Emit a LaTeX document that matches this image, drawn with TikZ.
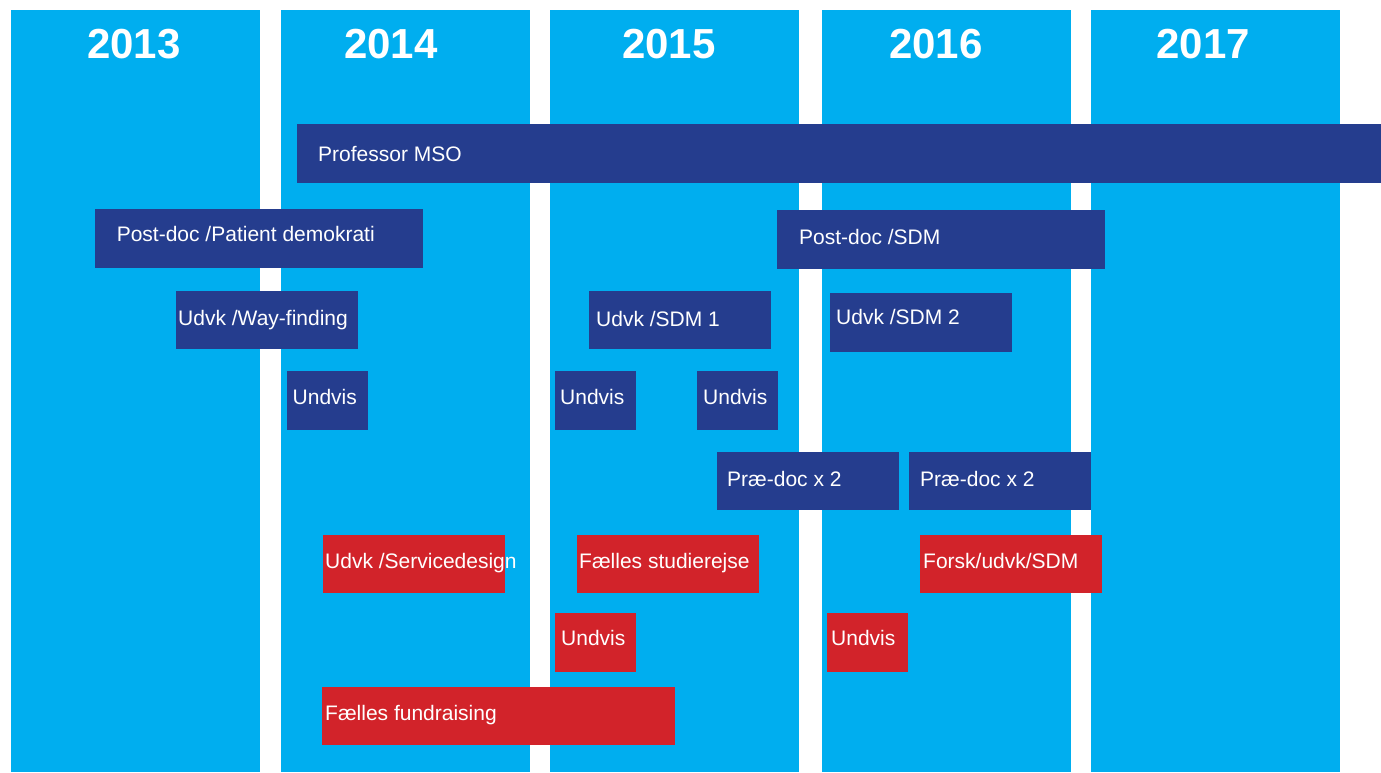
\documentclass[tikz,border=0pt]{standalone}
\usepackage{fontspec}
\setmainfont{Liberation Sans}
\definecolor{sky}{RGB}{0,174,239}
\definecolor{navy}{RGB}{37,61,142}
\definecolor{crimson}{RGB}{210,35,42}
\begin{document}
\begin{tikzpicture}[x=1pt,y=-1pt,
  box/.style={anchor=north west, inner sep=0pt, outer sep=0pt, draw=none},
  col/.style={box, fill=sky, minimum width=249pt, minimum height=762pt},
  nbox/.style={box, fill=navy},
  rbox/.style={box, fill=crimson},
  lbl/.style={anchor=base west, inner sep=0pt, text=white, font=\fontsize{21}{25}\selectfont},
  yr/.style={anchor=base, inner sep=0pt, text=white, font=\fontsize{42}{48}\selectfont\bfseries}]
\useasboundingbox (0,0) rectangle (1381,772);
\fill[white] (0,0) rectangle (1381,772);
% columns
\node[col] (c13) at (11,10) {};
\node[col] (c14) at (281,10) {};
\node[col] (c15) at (550,10) {};
\node[col] (c16) at (822,10) {};
\node[col] (c17) at (1091,10) {};
\node[yr] (y13) at (134,58.3) {2013};
\node[yr] (y14) at (391,58.3) {2014};
\node[yr] (y15) at (669,58.3) {2015};
\node[yr] (y16) at (936,58.3) {2016};
\node[yr] (y17) at (1203,58.3) {2017};
% navy boxes
\node[nbox, minimum width=1084pt, minimum height=59pt] (prof) at (297,124) {};
\node[nbox, minimum width=328pt, minimum height=59pt] (pdpat) at (95,209) {};
\node[nbox, minimum width=182pt, minimum height=58pt] (wayf) at (176,291) {};
\node[nbox, minimum width=81pt, minimum height=59pt] (und14) at (287,371) {};
\node[nbox, minimum width=182pt, minimum height=58pt] (sdm1) at (589,291) {};
\node[nbox, minimum width=81pt, minimum height=59pt] (und15a) at (555,371) {};
\node[nbox, minimum width=81pt, minimum height=59pt] (und15b) at (697,371) {};
\node[nbox, minimum width=328pt, minimum height=59pt] (pdsdm) at (777,210) {};
\node[nbox, minimum width=182pt, minimum height=59pt] (sdm2) at (830,293) {};
\node[nbox, minimum width=182pt, minimum height=58pt] (pre1) at (717,452) {};
\node[nbox, minimum width=182pt, minimum height=58pt] (pre2) at (909,452) {};
% red boxes
\node[rbox, minimum width=182pt, minimum height=58pt] (serv) at (323,535) {};
\node[rbox, minimum width=182pt, minimum height=58pt] (stud) at (577,535) {};
\node[rbox, minimum width=81pt, minimum height=59pt] (undr15) at (555,613) {};
\node[rbox, minimum width=353pt, minimum height=58pt] (fund) at (322,687) {};
\node[rbox, minimum width=182pt, minimum height=58pt] (forsk) at (920,535) {};
\node[rbox, minimum width=81pt, minimum height=59pt] (undr16) at (827,613) {};
% labels
\node[lbl] (tprof) at (318,161.7) {Professor MSO};
\node[lbl] (tpdpat) at (116.6,241) {Post-doc /Patient demokrati};
\node[lbl] (twayf) at (178,325) {Udvk /Way-finding};
\node[lbl] (tund14) at (292.5,404.3) {Undvis};
\node[lbl] (tsdm1) at (596,326) {Udvk /SDM 1};
\node[lbl] (tund15a) at (560,404) {Undvis};
\node[lbl] (tund15b) at (703,404.7) {Undvis};
\node[lbl] (tpdsdm) at (799,244.7) {Post-doc /SDM};
\node[lbl] (tsdm2) at (836,324.7) {Udvk /SDM 2};
\node[lbl] (tpre1) at (727,486.7) {Præ-doc x 2};
\node[lbl] (tpre2) at (920,486.7) {Præ-doc x 2};
\node[lbl] (tserv) at (325,568.3) {Udvk /Servicedesign};
\node[lbl] (tstud) at (579,568) {Fælles studierejse};
\node[lbl] (tundr15) at (561,645.7) {Undvis};
\node[lbl] (tfund) at (325,720) {Fælles fundraising};
\node[lbl] (tforsk) at (923,568) {Forsk/udvk/SDM};
\node[lbl] (tundr16) at (831,645.7) {Undvis};
\end{tikzpicture}
\end{document}
